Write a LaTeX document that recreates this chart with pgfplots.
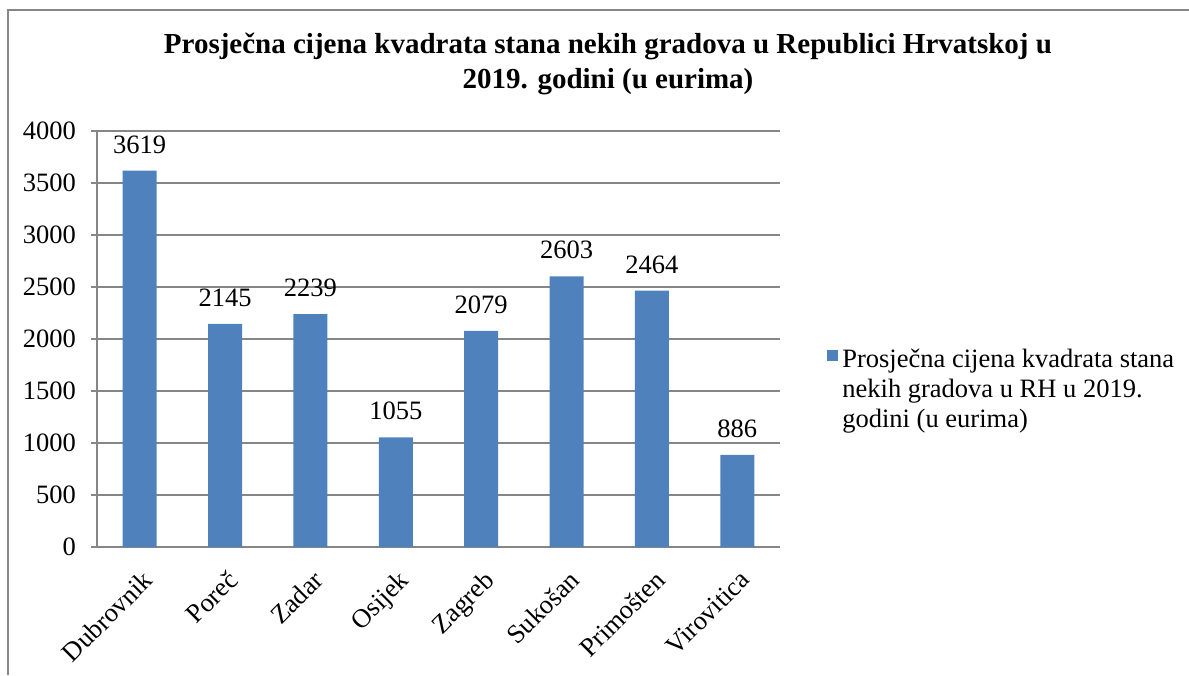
\documentclass[border=0pt]{standalone}
\usepackage{pgfplots}
\pgfplotsset{compat=1.18}
\usepackage{fontspec}
\setmainfont{Liberation Serif}
\definecolor{barblue}{HTML}{4F81BD}
\definecolor{gridgray}{HTML}{868686}
\begin{document}
\begin{tikzpicture}[x=1pt,y=1pt]
\useasboundingbox (0pt,0pt) rectangle (594.5pt,337.5pt);
\draw[gridgray, line width=1pt] (4pt,0pt) -- (4pt,332.5pt) -- (600pt,332.5pt);
\node[anchor=north, align=center, font=\bfseries\fontsize{14.5}{17.5}\selectfont, inner sep=0pt] at (304pt,321pt)
  {Prosječna cijena kvadrata stana nekih gradova u Republici Hrvatskoj u\\2019. godini (u eurima)};
\begin{axis}[
  at={(48.5pt,64pt)}, anchor=south west,
  scale only axis, width=341.5pt, height=208pt,
  ymin=0, ymax=4000, ytick={0,500,...,4000},
  xmin=-0.5, xmax=7.5,
  xtick={0,...,7},
  xticklabels={Dubrovnik,Poreč,Zadar,Osijek,Zagreb,Sukošan,Primošten,Virovitica},
  extra x ticks={-0.5,0.5,...,7.5},
  extra x tick labels={},
  extra x tick style={major tick length=3pt, tick style={gridgray, line width=0.8pt}, grid=none},
  major x tick style={draw=none},
  ymajorgrids, grid style={gridgray, line width=0.8pt},
  axis line style={gridgray, line width=0.8pt},
  axis x line*=bottom, axis y line*=left,
  y axis line style={-}, x axis line style={-},
  tick align=outside, major tick length=3pt,
  ytick style={gridgray, line width=0.8pt},
  /pgf/number format/assume math mode=true,
  /pgf/number format/1000 sep={},
  tick label style={font=\fontsize{13.25}{15}\selectfont},
  yticklabel style={xshift=-4pt},
  xticklabel style={rotate=45, anchor=north east, inner sep=1pt, yshift=-5pt, xshift=-4pt},
  ybar, bar width=17pt,
  nodes near coords,
  nodes near coords style={font=\fontsize{13.25}{15}\selectfont, yshift=5pt, /pgf/number format/assume math mode=true, /pgf/number format/1000 sep={}},
  legend style={at={(1.06,0.497)}, anchor=north west, draw=none, fill=none,
    font=\fontsize{13.25}{15}\selectfont, cells={anchor=north west, align=left}},
  legend image code/.code={\fill[barblue] (-2pt,-8pt) rectangle (3.5pt,-2.5pt);},
]
\addplot[fill=barblue, draw=none] coordinates {(0,3619) (1,2145) (2,2239) (3,1055) (4,2079) (5,2603) (6,2464) (7,886)};
\addlegendentry{Prosječna cijena kvadrata stana\\nekih gradova u RH u 2019.\\godini (u eurima)}
\end{axis}
\end{tikzpicture}
\end{document}
